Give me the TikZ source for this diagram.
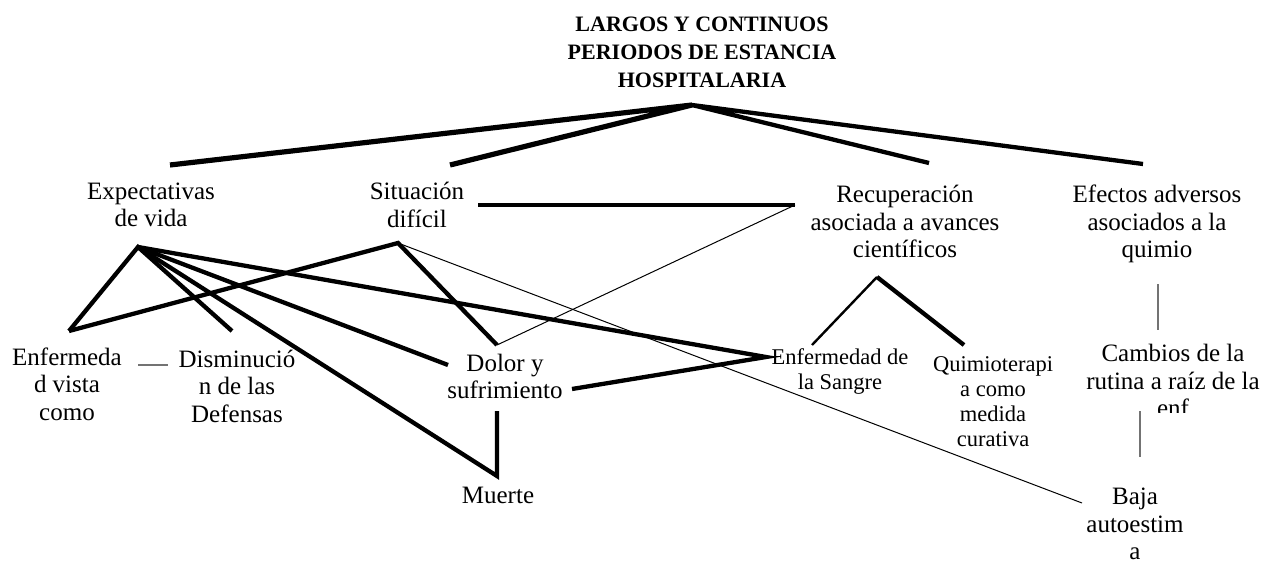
\documentclass[tikz,border=0pt]{standalone}
\usepackage{fontspec}
\setmainfont{Liberation Serif}
\begin{document}
\begin{tikzpicture}[x=1pt,y=-1pt,
  lbl/.style={align=center,inner sep=0pt,font=\fontsize{25}{27.5}\selectfont},
  sml/.style={align=center,inner sep=0pt,font=\fontsize{22.5}{25}\selectfont},
  ttl/.style={align=center,inner sep=0pt,font=\bfseries\fontsize{22}{28}\selectfont},
  thk/.style={line width=4.3pt},
  thkk/.style={line width=5.2pt},
  med/.style={line width=2.4pt},
  thn/.style={line width=1pt},
  gry/.style={draw=black!55,line width=1.2pt}]
\useasboundingbox (0,0) rectangle (1268,564);
% text nodes
\node[ttl] (title) at (702,52.7) {LARGOS Y CONTINUOS\\PERIODOS DE ESTANCIA\\HOSPITALARIA};
\node[lbl] (expect) at (151,205) {Expectativas\\de vida};
\node[lbl] (situ) at (417,205) {Situación\\difícil};
\node[lbl] (recup) at (905,221.5) {Recuperación\\asociada a avances\\científicos};
\node[lbl] (efect) at (1157,224) {Efectos adversos\\asociados a la\\quimio};
\node[lbl] (enfer) at (67,384) {Enfermeda\\d vista\\como};
\node[lbl] (dismin) at (237,386) {Disminució\\n de las\\Defensas};
\node[lbl] (dolor) at (505,376.5) {Dolor y\\sufrimiento};
\node[lbl] (muerte) at (498,495) {Muerte};
\node[sml] (sangre) at (840,372) {Enfermedad de\\la Sangre};
\node[sml] (quimio) at (993,402) {Quimioterapi\\a como\\medida\\curativa};
\begin{scope}
\clip (1050,330) rectangle (1268,412);
\node[lbl] (cambios) at (1173,380.5) {Cambios de la\\rutina a raíz de la\\enf};
\end{scope}
\node[lbl] (baja) at (1135,524) {Baja\\autoestim\\a};
% junction coordinates
\coordinate (apex) at (692,105);
\coordinate (tE) at (170,165);
\coordinate (tS) at (450,165);
\coordinate (tR) at (929,163);
\coordinate (tF) at (1143,164);
\coordinate (eA) at (138,247);
\coordinate (sA) at (398,243);
\coordinate (hL) at (478,205);
\coordinate (hR) at (795,205);
\coordinate (enA) at (69,331);
\coordinate (diA) at (232,331);
\coordinate (doL) at (448,365);
\coordinate (doT) at (497,345);
\coordinate (doR) at (572,389);
\coordinate (doB) at (497,411);
\coordinate (muA) at (497,476);
\coordinate (saA) at (766,357);
\coordinate (baA) at (1082,503);
\coordinate (rA) at (877,277);
\coordinate (rL) at (812,345);
\coordinate (rR) at (964,345);
\coordinate (fT) at (1158,284);
\coordinate (fB) at (1158,330);
\coordinate (cT) at (1140,411);
\coordinate (cB) at (1140,457);
\coordinate (gL) at (138,365);
\coordinate (gR) at (168,365);
% connectors
\draw[thkk] (tE) -- (apex) -- (tS);
\draw[thk] (tR) -- (apex) -- (tF);
\draw[thk] (hL) -- (hR);
\draw[thn] (hR) -- (doT);
\draw[thk] (enA) -- (eA) -- (diA);
\draw[thk] (eA) -- (doL);
\draw[thk] (eA) -- (muA) -- (doB);
\draw[thk] (eA) -- (saA) -- (doR);
\draw[thk] (enA) -- (sA) -- (doT);
\draw[thn] (sA) -- (baA);
\draw[med] (rL) -- (rA);
\draw[thk] (rA) -- (rR);
\draw[gry] (fT) -- (fB);
\draw[gry] (cT) -- (cB);
\draw[gry] (gL) -- (gR);
\end{tikzpicture}
\end{document}
